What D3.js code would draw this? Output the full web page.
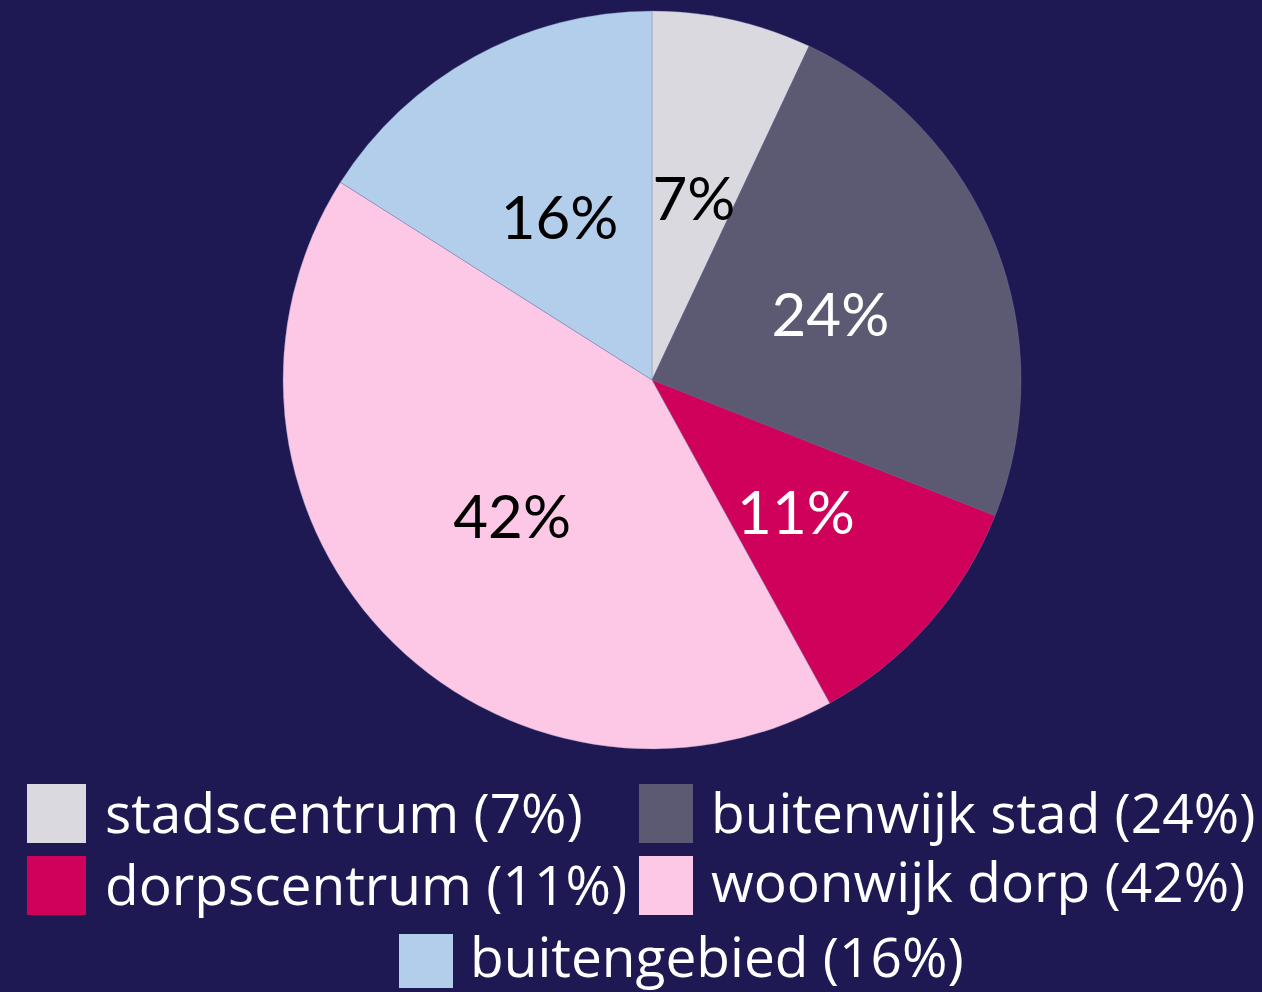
<!DOCTYPE html>
<html>
<head>
<meta charset="utf-8">
<script src="https://cdn.jsdelivr.net/npm/d3@7"></script>
<style>
  html, body { margin: 0; padding: 0; background: #1e1853; }
  svg { display: block; }
</style>
</head>
<body>
<script>
// canvas
const WIDTH = 1262;
const HEIGHT = 992;
const CX = 652;
const CY = 380;
const RADIUS = 369;

// data
const categories = ['stadscentrum', 'buitenwijk stad', 'dorpscentrum', 'woonwijk dorp', 'buitengebied'];
const values = [7, 24, 11, 42, 16];
const colors = ['#dad9e0', '#5c5a72', '#d0015b', '#fdc8e6', '#b3ceeb'];
const labelColors = ['#000', '#fff', '#fff', '#000', '#000'];

// legend layout: [swatch x, swatch y, swatch w, swatch h, text x, baseline]
const legendPos = [
  [27, 784, 59, 59, 105, 833],
  [639, 784, 54, 59, 711, 833],
  [27, 856, 59, 59, 105, 905],
  [639, 856, 54, 59, 711, 902],
  [399, 934, 54, 54, 470, 977]
];

const dataset = categories.map((c, i) => ({ name: c, value: values[i], i }));

const svg = d3.select('body')
  .append('svg')
    .attr('width', WIDTH)
    .attr('height', HEIGHT);

svg.append('rect')
    .attr('width', WIDTH)
    .attr('height', HEIGHT)
    .attr('fill', '#1e1853');

const pie = d3.pie()
    .sort(null)
    .value(d => d.value);

const arc = d3.arc()
    .innerRadius(0)
    .outerRadius(RADIUS);

// labels sit a bit further out than the plain centroid
const labelArc = d3.arc()
    .innerRadius(RADIUS * 0.04)
    .outerRadius(RADIUS);

const g = svg.append('g')
    .attr('transform', `translate(${CX}, ${CY})`);

const arcs = pie(dataset);

g.selectAll('path')
  .data(arcs)
  .enter()
  .append('path')
    .attr('d', arc)
    .attr('fill', d => colors[d.data.i])
    .attr('stroke', 'rgba(120,130,170,0.6)')
    .attr('stroke-width', 0.6);

// percentage labels at the arc centroids
g.selectAll('text')
  .data(arcs)
  .enter()
  .append('text')
    .attr('transform', d => `translate(${labelArc.centroid(d)})`)
    .attr('text-anchor', 'middle')
    .attr('dy', '0.45em')
    .style('font-family', 'Lato, sans-serif')
    .style('font-size', '60px')
    .attr('fill', d => labelColors[d.data.i])
    .text(d => `${d.data.value}%`);

// legend
const legend = svg.append('g').attr('id', 'legend');

legend.selectAll('rect')
  .data(dataset)
  .enter()
  .append('rect')
    .attr('x', d => legendPos[d.i][0])
    .attr('y', d => legendPos[d.i][1])
    .attr('width', d => legendPos[d.i][2])
    .attr('height', d => legendPos[d.i][3])
    .attr('fill', d => colors[d.i]);

const legendText = legend.selectAll('text')
  .data(dataset)
  .enter()
  .append('text')
    .attr('x', d => legendPos[d.i][4])
    .attr('y', d => legendPos[d.i][5])
    .attr('fill', '#fff')
    .style('font-family', '"Open Sans", sans-serif')
    .style('font-size', '100px')
    .text(d => `${d.name} (${d.value}%)`);

// fit font size so "stadscentrum (7%)" is about 478px wide
const w0 = legendText.node().getComputedTextLength();
legendText.style('font-size', `${100 * 478 / w0}px`);
</script>
</body>
</html>
